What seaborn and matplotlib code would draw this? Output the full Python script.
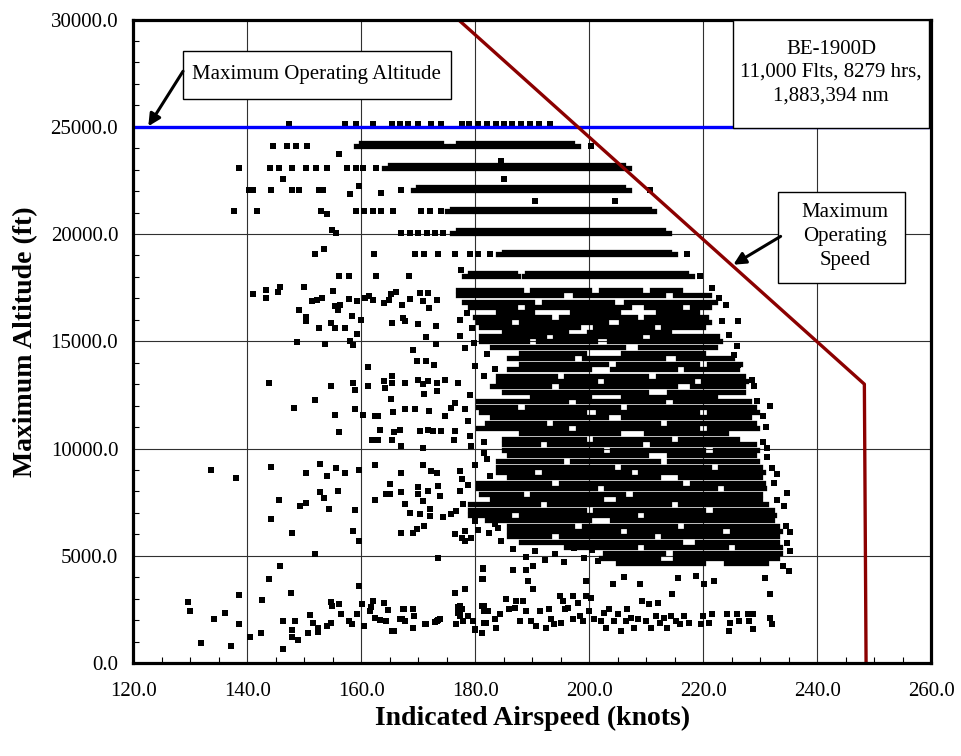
import matplotlib
matplotlib.use("Agg")
import matplotlib.pyplot as plt
import pandas as pd
import seaborn as sns
from matplotlib.patches import Rectangle
from matplotlib.ticker import MultipleLocator, FormatStrFormatter

sns.set_theme(style="white")
plt.rcParams['font.family'] = ['Liberation Serif', 'DejaVu Serif']

# ---------------- axis ticks ----------------
x_ticks = [120, 140, 160, 180, 200, 220, 240, 260]
y_ticks = [0, 5000, 10000, 15000, 20000, 25000, 30000]

# ---------------- limit lines ----------------
max_alt = 25000
vmo_spd = [177.0, 248.3, 248.6]
vmo_alt = [30000, 13000, 0]

# ---------------- dense runs of overlapping points: altitude, list of (from, to) ----------------
band_rows = [
    (24100, [(159, 175), (176, 198)]),
    (24230, [(160, 174), (177, 197)]),
    (23100, [(164, 207)]),
    (23230, [(165, 206)]),
    (22050, [(169, 207)]),
    (22180, [(170, 206)]),
    (21050, [(175, 211.4)]),
    (21180, [(176, 210.5)]),
    (20050, [(176, 214)]),
    (20180, [(177, 213)]),
    (19050, [(184, 215)]),
    (19180, [(185, 214)]),
    (18050, [(178, 187.5), (188.5, 218)]),
    (18180, [(179, 187), (189, 217)]),
    (17400, [(177, 188), (190, 200), (202, 209), (211, 216)]),
    (17150, [(177, 195), (197.5, 213), (215, 221)]),
    (16850, [(178, 190), (192, 204), (206.5, 222)]),
    (16600, [(179, 187), (189, 207), (210, 216), (218, 221)]),
    (16350, [(184, 190), (197, 205), (212, 219)]),
    (16150, [(180, 193), (195, 208), (210, 220.5)]),
    (15900, [(180.5, 186), (188, 203), (205.5, 221)]),
    (15650, [(181, 198), (201, 211), (213, 220)]),
    (15450, [(185, 196), (200, 214)]),
    (15250, [(181, 192), (194, 209), (211, 222.5)]),
    (15000, [(181, 189), (191, 201), (203.5, 223)]),
    (14750, [(183, 206), (209, 222)]),
    (14450, [(188, 199), (206, 220)]),
    (14200, [(186, 197), (199, 213), (215.5, 225)]),
    (13950, [(188, 203), (205, 219), (221, 226.5)]),
    (13700, [(186, 200), (204, 215), (217, 226)]),
    (13400, [(184, 194), (196, 210), (212, 227)]),
    (13150, [(184, 201), (203, 218), (220, 227.5)]),
    (12900, [(183, 193), (195, 215), (218, 227)]),
    (12650, [(185, 210), (214, 227)]),
    (12400, [(190, 200), (206, 222)]),
    (12200, [(180.5, 196), (198, 213), (215, 228)]),
    (11950, [(180.5, 187), (189, 205), (207, 229)]),
    (11700, [(181, 199), (201.5, 219), (221, 229.5)]),
    (11450, [(183, 203), (206, 228)]),
    (11200, [(182, 192), (194, 212), (214, 229)]),
    (10950, [(180.5, 196), (198, 219), (221, 229.5)]),
    (10700, [(188, 205), (210, 224)]),
    (10450, [(185, 199), (201, 214), (216, 226)]),
    (10200, [(185, 191), (193, 209), (211, 229)]),
    (9950, [(185, 202), (204, 220), (222, 229.5)]),
    (9700, [(186, 210), (214, 229)]),
    (9400, [(184, 195), (197, 212), (214, 229.5)]),
    (9150, [(184, 204), (206, 221), (223, 230)]),
    (8900, [(184, 190), (192, 207), (209, 230.5)]),
    (8650, [(186, 212), (216, 230)]),
    (8400, [(180.5, 193), (195, 216), (218, 230.5)]),
    (8150, [(180.5, 201), (203, 222), (224, 230.6)]),
    (7900, [(181, 188), (190, 206), (208, 230)]),
    (7650, [(183, 202), (205, 230)]),
    (7400, [(179, 191), (193, 214), (216, 231)]),
    (7150, [(179, 199), (201, 220), (222, 232)]),
    (6900, [(179, 186), (188, 208), (210, 232.4)]),
    (6650, [(182, 200), (204, 232)]),
    (6400, [(186, 197), (199, 215), (217, 233)]),
    (6150, [(186, 205), (207, 223), (225, 233.5)]),
    (5900, [(186, 193), (195, 211), (213, 233)]),
    (5650, [(188, 216), (219, 233)]),
    (5400, [(196, 208), (210, 224), (226, 233.5)]),
    (5150, [(202.7, 213), (215, 233.5)]),
    (4900, [(202, 212), (215, 233)]),
    (4650, [(205, 220), (224, 231)]),
]
band_alt = [row[0] for row in band_rows for _ in row[1]]
band_lo = [seg[0] for row in band_rows for seg in row[1]]
band_hi = [seg[1] for row in band_rows for seg in row[1]]

# ---------------- individual flights: upper flight levels ----------------
upper_spd = [147.3, 157.2, 159.0, 162.1, 165.3, 166.8, 168.2, 170.0, 172.2, 174.0,
             177.6, 178.9, 180.4, 182.0, 183.6, 185.1, 186.5, 188.0, 189.6, 191.2, 193.2,
             144.5, 147.0, 148.5, 150.5, 200.3, 156.1,
             138.5, 144.0, 145.5, 147.8, 150.2, 152.0, 154.0, 157.4, 159.0, 160.3, 162.5, 184.5,
             140.3, 141.0, 144.2, 147.8, 149.0, 152.6, 153.3, 167.0, 210.6, 158.0, 159.5,
             163.4, 185.0, 146.3, 204.5,
             137.7, 141.7, 153.0, 159.0, 160.5, 162.0, 163.5, 165.6, 170.5, 172.0, 174.0,
             154.0, 190.4,
             155.5, 167.0, 168.5, 170.0, 171.5, 173.0, 174.3, 154.8,
             151.8, 162.2, 169.5, 171.0, 173.5, 176.5, 179.0, 180.5, 182.5, 217.2, 153.4,
             156.0, 157.8, 162.5, 168.3, 219.5, 177.5, 221.6]
upper_alt = [25150, 25150, 25150, 25150, 25150, 25150, 25150, 25150, 25150, 25150,
             25150, 25150, 25150, 25150, 25150, 25150, 25150, 25150, 25150, 25150, 25150,
             24100, 24100, 24100, 24100, 24100, 23750,
             23100, 23100, 23100, 23100, 23100, 23100, 23100, 23100, 23100, 23100, 23100, 23400,
             22050, 22050, 22050, 22050, 22050, 22050, 22050, 22050, 22050, 21850, 22250,
             21900, 22550, 22550, 21550,
             21050, 21050, 21050, 21050, 21050, 21050, 21050, 21050, 21050, 21050, 21050,
             20950, 21520,
             20050, 20050, 20050, 20050, 20050, 20050, 20050, 20200,
             19050, 19050, 19050, 19050, 19050, 19050, 19050, 19050, 19050, 19050, 19300,
             18050, 18050, 18050, 18050, 18050, 18300, 17480]

# ---------------- individual flights: 10,000 - 17,500 ft ----------------
mid_spd = [141.0, 143.2, 143.2, 145.4, 145.7, 149.0, 150.0, 150.3, 150.3, 151.3, 152.2, 153.1,
           152.5, 154.6, 155.0, 155.3, 155.9, 156.3, 155.3, 157.2, 157.8, 158.3, 159.2, 159.9,
           159.2, 158.0, 158.5, 153.7, 148.7, 160.7, 161.3, 162.1, 163.9, 164.8, 165.2, 166.1,
           167.2, 168.5, 170.3, 170.9, 171.7, 171.9, 173.2, 173.1, 165.3, 167.3, 167.6, 170.0,
           171.3, 173.1, 169.1, 169.7, 171.3, 172.8, 161.1, 143.8, 148.1, 151.8, 154.7, 155.3,
           156.1, 158.6, 158.9, 158.9, 160.3, 161.1, 162.4, 163.0, 163.3, 161.8, 163.0, 163.9,
           164.1, 165.3, 165.3, 165.2, 165.5, 165.8, 165.3, 166.7, 167.6, 167.7, 169.4, 169.9,
           170.3, 170.9, 171.0, 171.7, 171.9, 171.7, 172.6, 173.2, 173.2, 173.9, 174.7, 174.7,
           175.8, 176.4, 176.4, 176.3, 167.0, 170.9, 178.2, 177.0, 179.9, 178.2, 177.3, 177.4,
           223.3, 226.2, 225.4, 226.2, 231.8, 231.2, 229.4, 228.3,
           178.5, 179.5, 179.8, 182.0, 183.5, 181.5, 179.0, 178.8, 179.0, 181.5,
           222.8, 224.0, 224.5, 226.0, 228.5, 229.0, 230.5, 231.0, 230.5]
mid_alt = [17180, 17410, 17020, 17280, 17520, 16440, 17520, 16120, 15960, 16860, 16940, 17020,
           15620, 15860, 17330, 16630, 16480, 16710, 15620, 15620, 16990, 16170, 16860, 16010,
           15340, 15030, 14810, 14880, 14970, 17020, 17100, 16940, 16790, 16940, 17180, 17300,
           16710, 16990, 17250, 16860, 17250, 16550, 16940, 15700, 15860, 16090, 15960, 15810,
           15190, 14880, 14570, 14070, 14070, 13880, 13800, 13060, 11890, 12250, 12900, 11580,
           10770, 13060, 12750, 11820, 11580, 12900, 11500, 11500, 10880, 10420, 10420, 13140,
           12820, 13370, 13060, 12320, 11690, 10770, 10420, 10840, 13060, 11820, 11820, 13210,
           10810, 12990, 12540, 13140, 11740, 10880, 10810, 13060, 12670, 10810, 13210, 11500,
           11890, 12120, 10810, 10420, 10110, 10030, 11820, 13060, 13830, 14690, 16010, 15230,
           15930, 15930, 14380, 13910, 11970, 10030, 12200, 11740,
           16300, 15600, 14900, 14400, 13700, 13400, 12500, 11300, 10600, 10300,
           17000, 16700, 15300, 14800, 13200, 12900, 11500, 11000, 10300]

# ---------------- individual flights: 4,500 - 10,000 ft ----------------
low_spd = [133.6, 138.0, 144.1, 145.5, 144.1, 147.9, 149.3, 150.3, 150.3, 151.8, 152.8, 152.8,
           153.4, 154.0, 154.3, 155.5, 155.9, 157.1, 158.9, 158.6, 159.5, 159.5, 162.4, 162.4,
           164.4, 165.0, 165.0, 167.0, 167.0, 167.0, 167.6, 168.5, 169.1, 169.7, 170.0, 170.0,
           170.3, 170.9, 170.9, 171.0, 171.7, 172.0, 172.0, 172.3, 173.2, 173.5, 173.5, 173.8,
           174.4, 175.8, 176.4, 176.7, 177.3, 177.3, 177.6, 177.6, 178.2, 178.2, 179.3, 179.3,
           179.9, 180.5, 182.4, 184.0,
           186.6, 188.9, 190.5, 192.3, 194.0, 195.5, 197.4, 199.0, 200.5, 201.5,
           232.9, 234.7, 235.0,
           181.5, 182.0, 182.5, 178.8, 177.8, 180.0, 183.5, 184.5,
           231.2, 232.0, 232.4, 233.0, 234.2, 234.6, 235.2, 234.7, 235.2, 234.0]
low_alt = [9020, 8630, 9130, 7620, 6720, 6070, 7310, 7470, 8870, 5060, 9280, 7970,
           7700, 8710, 7200, 9100, 8040, 8870, 7120, 6150, 9020, 5680, 9210, 7620,
           7880, 7880, 8350, 8870, 7970, 6070, 7420, 7000, 6070, 6230, 8200, 7860,
           6930, 9250, 7550, 6380, 8010, 6850, 7160, 8940, 8870, 4910, 8240, 7780,
           6800, 6930, 6000, 7080, 8010, 8940, 8560, 5840, 6150, 5680, 5840, 10110,
           9250, 6200, 6050, 6300,
           5300, 4950, 5200, 4800, 5100, 4700, 5350, 4900, 5250, 4750,
           8790, 7930, 4280,
           9800, 9500, 8700, 8300, 7400, 6600, 6500, 5700,
           9600, 9100, 8400, 7600, 7300, 6400, 6100, 5600, 5200, 4500]

# ---------------- individual flights: below 4,500 ft ----------------
base_spd = [129.5, 129.9, 131.8, 134.2, 136.1, 137.1, 138.5, 138.5, 140.4, 142.3, 142.6, 143.8,
            145.7, 146.3, 146.3, 147.6, 147.9, 147.9, 148.4, 148.8, 150.6, 150.9, 151.5, 152.4,
            152.4, 154.0, 154.6, 154.7, 154.8, 156.1, 156.5, 157.8, 158.3, 159.2, 159.5, 160.1,
            160.4, 161.6, 161.7, 162.0, 162.4, 163.3, 163.9, 164.3, 164.6, 165.3, 165.8, 166.8,
            167.3, 167.6, 169.1, 169.3, 169.1, 171.3, 172.9, 173.5, 173.8, 176.5, 176.9, 177.0,
            177.3, 177.6, 178.2, 177.9, 178.7, 179.9, 181.1, 181.6, 181.6, 181.4, 181.4, 181.1,
            167.4, 169.1, 167.1, 169.1, 171.2, 173.2, 173.8, 176.4, 178.2, 176.7, 177.3, 177.3,
            178.7, 179.6, 179.9, 181.1, 181.5, 181.9, 182.2, 183.4, 183.7, 184.3, 185.4, 186.0,
            186.9, 187.2, 187.8, 188.4, 188.9, 189.2, 189.8, 190.1, 190.7, 191.3, 192.4, 193.0,
            193.3, 193.9, 194.8, 195.1, 195.4, 195.7, 196.2, 197.1, 197.1, 198.0, 198.3, 198.9,
            199.4, 199.4, 200.0, 200.3, 200.9, 202.0, 202.6, 202.9, 203.5, 204.1, 204.4, 205.0,
            205.5, 206.1, 206.4, 206.7, 207.3, 207.9, 208.5, 209.0, 209.3, 209.9, 210.5, 210.8,
            211.7, 212.0, 212.5, 213.1, 213.7, 214.3, 214.6, 215.2, 215.5, 216.0, 216.6, 217.5,
            218.7, 219.6, 219.9, 220.1, 221.0, 221.6, 221.9, 224.2, 224.5, 224.8, 226.0, 226.3,
            227.8, 228.1, 228.8, 228.7, 230.9, 231.8, 231.8, 232.1,
            181.4, 181.1, 186.6, 188.9, 190.1]
base_alt = [2860, 2420, 950, 2040, 2340, 790, 1800, 3170, 1210, 1380, 2930, 3930,
            4520, 1960, 640, 3280, 1540, 1230, 1960, 1060, 1380, 2220, 1880, 1650,
            1460, 1720, 1880, 2860, 2660, 2760, 2300, 1960, 1830, 2300, 3590, 2760,
            1720, 2420, 2610, 2890, 2080, 1990, 2780, 1960, 2450, 1490, 1490, 2040,
            2530, 1960, 2500, 2190, 1610, 1800, 1920, 1990, 2040, 3280, 2620, 2310,
            2190, 2500, 3430, 1960, 2190, 1540, 1410, 1880, 2420, 3930, 4440, 2660,
            2500, 2500, 2040, 1650, 1800, 1960, 2040, 3280, 3430, 1800, 2660, 2270,
            2190, 1960, 1570, 1410, 2660, 1880, 2420, 2040, 1650, 2270, 2970, 2500,
            2580, 2890, 1960, 2890, 2420, 3820, 1960, 3430, 1720, 2420, 1650, 2500,
            2040, 1800, 3120, 1880, 2890, 2500, 2580, 3120, 2040, 2810, 2190, 1960,
            3120, 3820, 2420, 3040, 2040, 1960, 2340, 1650, 2500, 3670, 1960, 2270,
            1490, 4010, 1960, 2500, 2110, 1650, 2040, 3670, 2890, 1960, 2730, 1650,
            2190, 2810, 1880, 2110, 1650, 2190, 3200, 1960, 3970, 1800, 2190, 1880,
            4050, 1800, 2190, 3670, 1880, 2270, 3820, 2270, 1490, 1880, 2270, 1960,
            2270, 1960, 1570, 2270, 3970, 3200, 2110, 1800,
            4400, 3930, 4330, 4330, 4520]

flights = pd.DataFrame({
    "Indicated Airspeed (knots)": upper_spd + mid_spd + low_spd + base_spd,
    "Maximum Altitude (ft)": upper_alt + mid_alt + low_alt + base_alt,
})

# ---------------- figure ----------------
fig = plt.figure(figsize=(9.61, 7.56), dpi=100)
fig.patch.set_facecolor("white")
ax = fig.add_axes([0.1389, 0.1230, 0.8299, 0.8512])
ax.set_facecolor("white")

ax.hlines(band_alt, band_lo, band_hi, colors="black", linewidth=3.8,
          capstyle="projecting", zorder=3)
sns.scatterplot(data=flights, x="Indicated Airspeed (knots)", y="Maximum Altitude (ft)",
                marker="s", s=16, color="black", linewidth=0, ax=ax, zorder=3)

ax.axhline(max_alt, color="#0000ff", linewidth=2.4, zorder=4)
ax.plot(vmo_spd, vmo_alt, color="#8b0000", linewidth=2.4, zorder=4, clip_on=True)

ax.set_xlim(x_ticks[0], x_ticks[-1])
ax.set_ylim(y_ticks[0], y_ticks[-1])
ax.set_xticks(x_ticks)
ax.set_yticks(y_ticks)
ax.xaxis.set_major_formatter(FormatStrFormatter("%.1f"))
ax.yaxis.set_major_formatter(FormatStrFormatter("%.1f"))
ax.xaxis.set_minor_locator(MultipleLocator(5))
ax.yaxis.set_minor_locator(MultipleLocator(1000))
ax.grid(True, which="major", color="#303030", linewidth=0.8, zorder=0)
ax.set_axisbelow(True)
ax.tick_params(which="major", direction="in", length=5, width=0.8, color="black",
               labelsize=15, labelcolor="black", pad=14)
ax.tick_params(which="minor", direction="in", length=4.5, width=0.8, color="black",
               bottom=True, left=True)
ax.tick_params(axis="y", which="major", pad=11)
for side in ["left", "right", "top", "bottom"]:
    ax.spines[side].set_visible(True)
    ax.spines[side].set_color("black")
    ax.spines[side].set_linewidth(2.3)
    ax.spines[side].set_zorder(6)

ax.set_xlabel("Indicated Airspeed (knots)", fontsize=20, fontweight="bold", color="black",
              va="center")
ax.set_ylabel("Maximum Altitude (ft)", fontsize=20, fontweight="bold", color="black",
              va="center")
ax.xaxis.set_label_coords(0.5, -0.086)
ax.yaxis.set_label_coords(-0.135, 0.5)

# ---------------- annotation boxes ----------------
ax.add_patch(Rectangle((128.69, 26314), 175.74 - 128.69, 28554 - 26314,
                       facecolor="white", edgecolor="black", linewidth=1.0, zorder=7))
ax.text(152.2, 27434, "Maximum Operating Altitude", ha="center", va="center",
        fontsize=15, color="black", zorder=8)
ax.annotate("", xy=(122.6, 25022), xytext=(128.7, 27588),
            arrowprops=dict(arrowstyle="-|>", color="black", lw=2.2, mutation_scale=18,
                            shrinkA=0, shrinkB=0), zorder=8)

ax.add_patch(Rectangle((225.27, 24962), 259.68 - 225.27, 29985 - 24962,
                       facecolor="white", edgecolor="black", linewidth=1.0, zorder=7))
ax.text(242.45, 27528, "BE-1900D\n11,000 Flts, 8279 hrs,\n1,883,394 nm", ha="center",
        va="center", fontsize=15, color="black", linespacing=1.3, zorder=8)

ax.add_patch(Rectangle((233.2, 17716), 255.5 - 233.2, 21943 - 17716,
                       facecolor="white", edgecolor="black", linewidth=1.0, zorder=7))
ax.text(244.9, 19900, "Maximum\nOperating\nSpeed", ha="center", va="center",
        fontsize=15, color="black", linespacing=1.35, zorder=8)
ax.annotate("", xy=(225.3, 18570), xytext=(233.6, 19890),
            arrowprops=dict(arrowstyle="-|>", color="black", lw=2.2, mutation_scale=18,
                            shrinkA=0, shrinkB=0), zorder=8)

fig.savefig("out.png", dpi=100, facecolor="white")
